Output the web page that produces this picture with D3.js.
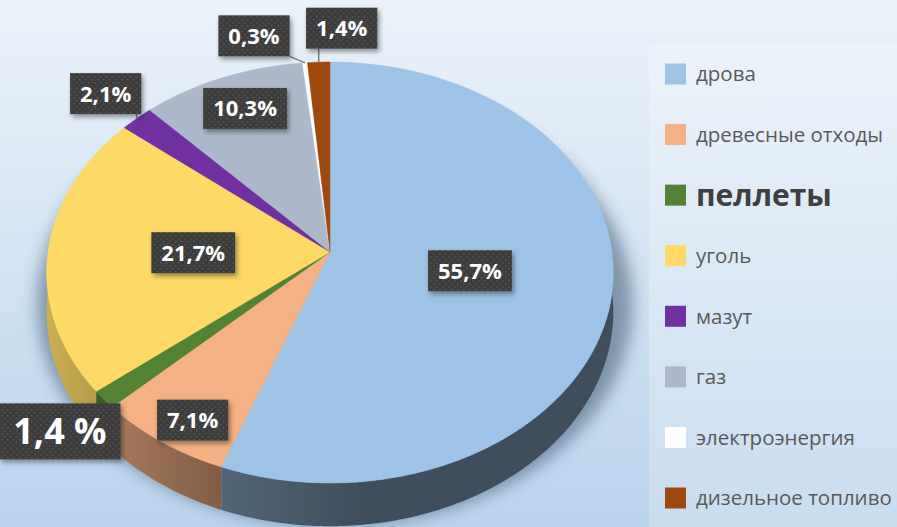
<!DOCTYPE html>
<html>
<head>
<meta charset="utf-8">
<script src="https://cdn.jsdelivr.net/npm/d3@7"></script>
<style>
  html, body { margin: 0; padding: 0; }
  body { width: 897px; height: 527px; overflow: hidden; }
</style>
</head>
<body>
<div id="canvas" class="canvas"></div>
<script>
// data
var categories = ['дрова', 'древесные отходы', 'пеллеты', 'уголь', 'мазут', 'газ', 'электроэнергия', 'дизельное топливо'];
var values = [55.7, 7.1, 1.4, 21.7, 2.1, 10.3, 0.3, 1.4];
var valueLabels = ['55,7%', '7,1%', '1,4 %', '21,7%', '2,1%', '10,3%', '0,3%', '1,4%'];
var colors = ['#9dc3e6', '#f4b183', '#548235', '#ffd966', '#7030a0', '#adb9ca', '#ffffff', '#9e480e'];

var W = 897, H = 527;

// pie geometry (perspective ellipse)
var CX = 330, CY = 252, RX = 282, RY = 208.5, P = 0.0974, DEPTH = 39;

// where each value label sits: radius fraction at mid angle, then pixel nudge
var labelLayout = [
  {f: 0.5,   dx: 0,   dy: 0,   big: false, leader: false},
  {f: 0.85,  dx: 4,   dy: 9,   big: false, leader: false},
  {f: 1,     dx: -44, dy: 32,  big: true,  leader: false},
  {f: 0.485, dx: 0,   dy: 1,   big: false, leader: false},
  {f: 1,     dx: -31, dy: -25, big: false, leader: true},
  {f: 0.8,   dx: 3,   dy: -2,  big: false, leader: false},
  {f: 1,     dx: -51, dy: -27, big: false, leader: true},
  {f: 1,     dx: 23,  dy: -34, big: false, leader: true}
];

var svg = d3.select('.canvas')
  .append('svg')
  .attr('width', W)
  .attr('height', H);

var defs = svg.append('defs');

var bg = defs.append('linearGradient').attr('id', 'bg')
  .attr('x1', 0).attr('y1', 0).attr('x2', 0).attr('y2', 1);
bg.append('stop').attr('offset', '0%').attr('stop-color', '#ebf2fa');
bg.append('stop').attr('offset', '100%').attr('stop-color', '#bad4ed');

// darkening of the side walls, lighter on the left
var sideShade = defs.append('linearGradient').attr('id', 'sideShade')
  .attr('gradientUnits', 'userSpaceOnUse')
  .attr('x1', 48).attr('y1', 0).attr('x2', 612).attr('y2', 0);
sideShade.append('stop').attr('offset', '0%').attr('stop-color', '#000').attr('stop-opacity', 0.2);
sideShade.append('stop').attr('offset', '10%').attr('stop-color', '#000').attr('stop-opacity', 0.3);
sideShade.append('stop').attr('offset', '31%').attr('stop-color', '#000').attr('stop-opacity', 0.48);
sideShade.append('stop').attr('offset', '55%').attr('stop-color', '#000').attr('stop-opacity', 0.6);
sideShade.append('stop').attr('offset', '100%').attr('stop-color', '#000').attr('stop-opacity', 0.6);

var pat = defs.append('pattern').attr('id', 'dots')
  .attr('patternUnits', 'userSpaceOnUse')
  .attr('width', 6).attr('height', 6);
pat.append('rect').attr('width', 6).attr('height', 6).attr('fill', '#3d3d3d');
pat.append('rect').attr('x', 1).attr('y', 1).attr('width', 1.5).attr('height', 1.5).attr('fill', '#555');
pat.append('rect').attr('x', 4).attr('y', 4).attr('width', 1.5).attr('height', 1.5).attr('fill', '#555');

var boxShadow = defs.append('filter').attr('id', 'boxShadow')
  .attr('x', '-20%').attr('y', '-20%').attr('width', '150%').attr('height', '160%');
boxShadow.append('feDropShadow').attr('dx', 2).attr('dy', 3)
  .attr('stdDeviation', 2.5).attr('flood-color', '#000').attr('flood-opacity', 0.4);

var blur = defs.append('filter').attr('id', 'pieShadow')
  .attr('x', '-20%').attr('y', '-20%').attr('width', '140%').attr('height', '140%');
blur.append('feGaussianBlur').attr('stdDeviation', 8);

svg.append('rect').attr('width', W).attr('height', H).attr('fill', 'url(#bg)');

// legend panel
svg.append('rect')
  .attr('x', 649).attr('y', 45).attr('width', 248).attr('height', 482)
  .attr('fill', '#fff').attr('opacity', 0.22);

var color = d3.scaleOrdinal().domain(categories).range(colors);

var pie = d3.pie().sort(null).value(function(d){ return d; });
var arcs = pie(values);

function proj(a, f) {
  var u = f * Math.sin(a), v = -f * Math.cos(a);
  var s = 1 / (1 - P * v);
  return [CX + RX * u * s, CY + RY * v * s];
}
function projLow(a) {
  var v = -Math.cos(a);
  var s = 1 / (1 - P * v);
  var p = proj(a, 1);
  return [p[0], p[1] + DEPTH * s];
}
function arcPoints(a0, a1, fn) {
  var n = Math.max(2, Math.ceil(Math.abs(a1 - a0) / 0.01));
  var pts = [];
  for (var i = 0; i <= n; i++) pts.push(fn(a0 + (a1 - a0) * i / n));
  return pts;
}

var line = d3.line();
var plot = svg.append('g');

// soft shadow under the pie
var shadowPts = arcPoints(0, 2 * Math.PI, function(a){
  var p = proj(a, 1.05);
  return [p[0] + 5, p[1] + 30];
});
plot.append('path')
  .attr('d', line(shadowPts) + 'Z')
  .attr('fill', '#3d5670')
  .attr('opacity', 0.55)
  .attr('filter', 'url(#pieShadow)');

// side walls (front half only)
var sides = plot.append('g');
arcs.forEach(function(d, i){
  var a0 = Math.max(d.startAngle, Math.PI / 2);
  var a1 = Math.min(d.endAngle, 3 * Math.PI / 2);
  if (a1 <= a0) return;
  var top = arcPoints(a0, a1, function(a){ return proj(a, 1); });
  var low = arcPoints(a1, a0, projLow);
  var dd = line(top.concat(low)) + 'Z';
  sides.append('path').attr('d', dd).attr('fill', color(categories[i]));
  sides.append('path').attr('d', dd).attr('fill', 'url(#sideShade)');
});

// top faces
var tops = plot.append('g');
arcs.forEach(function(d, i){
  var pts = [[CX, CY]].concat(arcPoints(d.startAngle, d.endAngle, function(a){ return proj(a, 1); }));
  tops.append('path')
    .attr('d', line(pts) + 'Z')
    .attr('fill', color(categories[i]))
    .attr('stroke', color(categories[i]))
    .attr('stroke-width', 0.5);
});

// value labels
var labels = svg.append('g');
arcs.forEach(function(d, i){
  var L = labelLayout[i];
  var mid = (d.startAngle + d.endAngle) / 2;
  var edge = proj(mid, 1);
  var p = proj(mid, L.f);
  var x = p[0] + L.dx, y = p[1] + L.dy;
  var fs = L.big ? 36 : 22;
  var bh = L.big ? 56 : 41;

  var g = labels.append('g');
  var t = g.append('text')
    .attr('x', x).attr('y', y)
    .attr('dy', '0.36em')
    .attr('text-anchor', 'middle')
    .style('font-family', '"Open Sans", sans-serif')
    .style('font-weight', 700)
    .style('font-size', fs + 'px')
    .attr('fill', '#fff')
    .text(valueLabels[i]);
  var tw = t.node().getComputedTextLength();
  var bw = tw + (L.big ? 28 : 20);
  var bx = x - bw / 2, by = y - bh / 2;

  if (L.leader) {
    var lx = Math.max(bx, Math.min(bx + bw, edge[0]));
    var ly = Math.max(by, Math.min(by + bh, edge[1]));
    labels.insert('line', ':first-child')
      .attr('x1', edge[0]).attr('y1', edge[1])
      .attr('x2', lx).attr('y2', ly)
      .attr('stroke', '#7f7f7f').attr('stroke-width', 1.5);
  }
  g.insert('rect', 'text')
    .attr('x', bx).attr('y', by)
    .attr('width', bw).attr('height', bh)
    .attr('fill', 'url(#dots)')
    .attr('filter', 'url(#boxShadow)');
});

// legend
var legend = svg.append('g').attr('transform', 'translate(665,0)');
var legY = d3.scalePoint().domain(categories).range([74, 498]);
categories.forEach(function(c, i){
  var y = legY(c);
  legend.append('rect')
    .attr('x', 0).attr('y', y - 10.5)
    .attr('width', 21).attr('height', 21)
    .attr('fill', color(c));
  var bold = c === 'пеллеты';
  legend.append('text')
    .attr('x', 31).attr('y', y)
    .attr('dy', '0.36em')
    .style('font-family', '"Open Sans", sans-serif')
    .style('font-size', bold ? '30px' : '20.5px')
    .style('font-weight', bold ? 700 : 400)
    .attr('fill', bold ? '#404040' : '#595959')
    .text(c);
});
</script>
</body>
</html>
